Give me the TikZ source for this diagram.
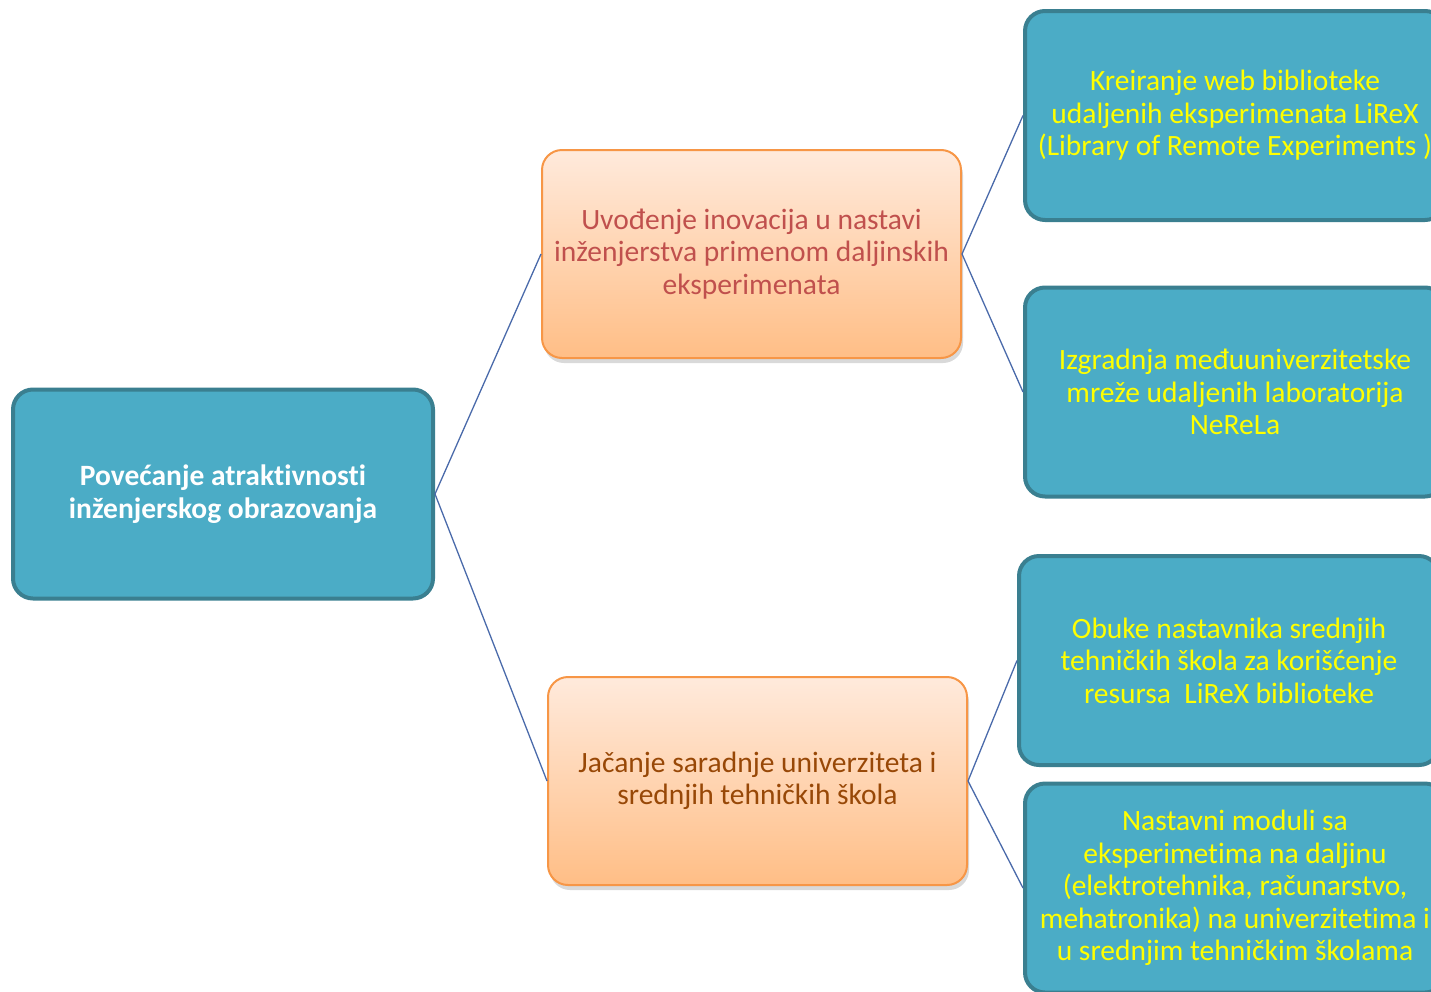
\documentclass[tikz,border=0pt]{standalone}
\usepackage{fontspec}
\setmainfont{Carlito}[Ligatures=NoCommon]
\usetikzlibrary{shadows}
\definecolor{tealfill}{HTML}{4BACC6}
\definecolor{tealline}{HTML}{3A7F90}
\definecolor{orangetop}{HTML}{FFEADC}
\definecolor{orangebot}{HTML}{FFBE86}
\definecolor{orangeline}{HTML}{F79646}
\definecolor{redtext}{HTML}{C0504D}
\definecolor{browntext}{HTML}{984807}
\definecolor{linkline}{HTML}{4A6AAA}
\definecolor{yellowtext}{HTML}{FFFF00}

\tikzset{
  every node/.style={font=\fontsize{29.5}{32.5}\selectfont, align=center, inner sep=0pt},
  bluebox/.style={draw=tealline, fill=tealfill, line width=4pt, rounded corners=20pt,
    minimum width=420pt, minimum height=209pt, text=yellowtext},
  orangebox/.style={draw=orangeline, line width=2pt, rounded corners=20pt,
    top color=orangetop, bottom color=orangebot,
    minimum width=419pt, minimum height=208pt,
    drop shadow={opacity=0.3, shadow xshift=2pt, shadow yshift=-5pt}},
  link/.style={draw=linkline, line width=1.3pt}
}

\begin{document}
\begin{tikzpicture}[x=1pt,y=-1pt]
  \useasboundingbox (0,0) rectangle (1431,991);
  \clip (0,0) rectangle (1431,991);
  % root
  \node[bluebox, text=white, font=\fontsize{29.5}{32.5}\selectfont\bfseries] (root) at (223,494)
    {Povećanje atraktivnosti\\inženjerskog obrazovanja};
  % second level
  \node[orangebox, text=redtext] (innov) at (751.5,254)
    {Uvođenje inovacija u nastavi\\inženjerstva primenom daljinskih\\eksperimenata};
  \node[orangebox, text=browntext] (coop) at (757.5,781)
    {Jačanje saradnje univerziteta i\\srednjih tehničkih škola};
  % leaves
  \node[bluebox] (lirex) at (1235,115.5)
    {Kreiranje web biblioteke\\udaljenih eksperimenata LiReX\\(Library of Remote Experiments )};
  \node[bluebox] (nerela) at (1235,392)
    {Izgradnja međuuniverzitetske\\mreže udaljenih laboratorija\\NeReLa};
  \node[bluebox] (obuke) at (1229,660.5)
    {Obuke nastavnika srednjih\\tehničkih škola za korišćenje\\resursa\ \ LiReX biblioteke};
  \node[bluebox] (moduli) at (1235,888)
    {Nastavni moduli sa\\eksperimetima na daljinu\\(elektrotehnika, računarstvo,\\mehatronika) na univerzitetima i\\u srednjim tehničkim školama};

  \path[link]
    (root.east) -- (innov.west)
    (root.east) -- (coop.west)
    (innov.east) -- (lirex.west)
    (innov.east) -- (nerela.west)
    (coop.east) -- (obuke.west)
    (coop.east) -- (moduli.west);
\end{tikzpicture}
\end{document}
